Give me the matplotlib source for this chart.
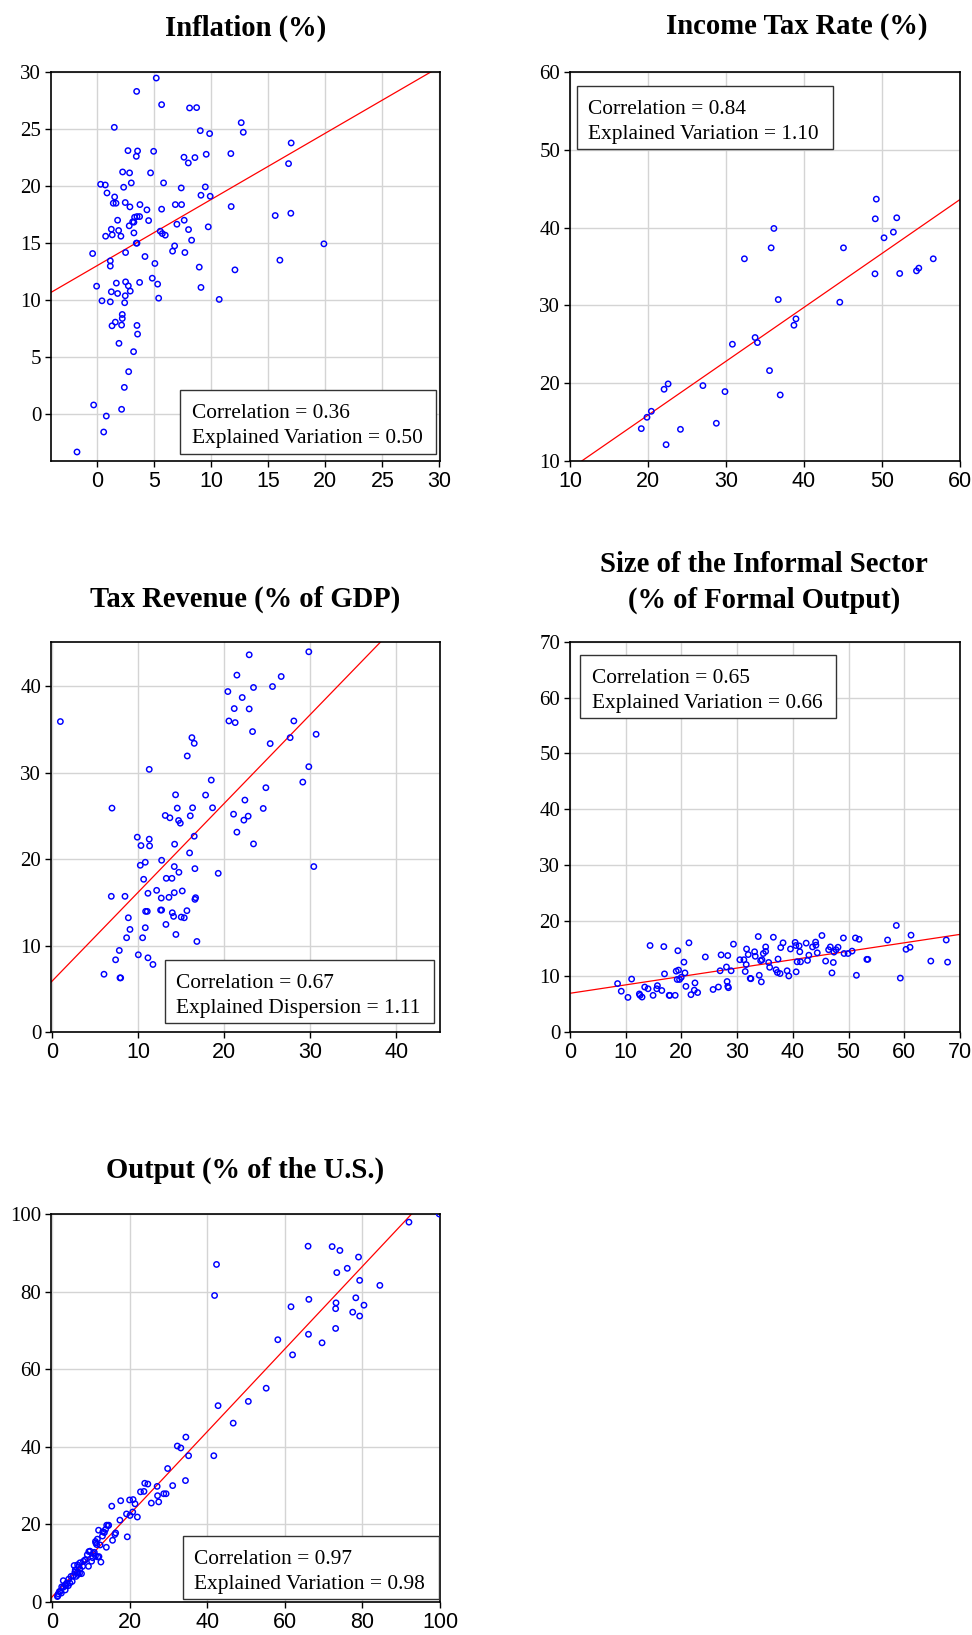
import matplotlib
matplotlib.use('Agg')
import matplotlib.pyplot as plt
from matplotlib.patches import Rectangle
import numpy as np

W, H = 972, 1635

# ---- Inflation (%) ----
infl_x = [5.17, 3.45, 5.64, 8.09, 8.71, 12.62, 1.49, 9.03, 9.85, 12.8, 17.0, 2.69, 3.53, 3.42, 4.94,
          11.71, 9.55, 7.6, 8.56, 7.98, 16.77, 2.22, 2.83, 4.67, 2.98, 0.29, 0.70, 2.31, 5.81, 7.36,
          9.47, 0.85, 1.52, 9.09, 9.9, 1.4, 1.64, 2.45, 2.86, 3.74, 4.35, 5.64, 6.84, 7.39, 11.74,
          16.97, 15.6, 1.78, 3.48, 3.27, 3.71, 4.5, 3.1, 3.21, 2.8, 6.98, 7.62, 8.0, 9.73, 1.23,
          1.87, 3.21, 5.52, 5.7, 5.96, 0.73, 1.31, 2.07, 3.42, 3.48, 8.27, 6.78, -0.41, 2.48, 6.6,
          7.68, 4.18, 1.14, 1.14, 5.05, 8.94, 12.07, 16.01, 19.87, 4.82, 2.48, 1.67, -0.06, 2.72,
          3.71, 5.29, 9.09, 1.23, 1.78, 2.89, 2.45, 5.38, 10.69, 0.41, 1.14, 2.4, 2.19, 2.19, 1.58,
          1.29, 2.13, 3.48, 3.53, 1.9, 3.18, 2.75, 2.37, -0.32, 0.79, 2.13, 0.56, -1.78]
infl_y = [29.47, 28.3, 27.14, 26.85, 26.88, 25.56, 25.15, 24.86, 24.6, 24.72, 23.78, 23.11, 23.08, 22.61,
          23.05, 22.85, 22.79, 22.53, 22.5, 22.03, 21.97, 21.24, 21.16, 21.16, 20.28, 20.16, 20.1, 19.9,
          20.28, 19.84, 19.93, 19.4, 19.05, 19.2, 19.11, 18.5, 18.5, 18.56, 18.18, 18.38, 17.92, 17.98,
          18.38, 18.38, 18.21, 17.62, 17.42, 17.01, 17.33, 17.27, 17.33, 16.98, 16.87, 16.84, 16.52,
          16.66, 17.01, 16.19, 16.43, 16.22, 16.11, 15.9, 16.05, 15.84, 15.7, 15.61, 15.73, 15.61, 15.0,
          15.0, 15.26, 14.76, 14.09, 14.18, 14.3, 14.18, 13.83, 13.45, 12.99, 13.22, 12.9, 12.66, 13.51,
          14.94, 11.93, 11.61, 11.5, 11.23, 11.26, 11.56, 11.41, 11.12, 10.74, 10.59, 10.8, 10.39, 10.18,
          10.07, 9.95, 9.86, 9.78, 8.75, 8.4, 8.08, 7.76, 7.82, 7.79, 7.03, 6.22, 5.49, 3.74, 2.36, 0.82,
          -0.15, 0.44, -1.55, -3.3]
infl_fit = (13.04, 0.58)

# ---- Income Tax Rate (%) ----
itax_x = [49.27, 49.14, 51.89, 36.14, 51.46, 50.26, 35.79, 45.06, 32.36, 56.57, 49.1, 52.27, 54.42,
          54.72, 36.7, 44.59, 38.97, 38.71, 33.73, 34.03, 30.82, 35.58, 22.58, 22.06, 27.04, 29.87,
          36.95, 20.43, 19.87, 19.14, 24.16, 28.76, 22.32]
itax_y = [43.66, 41.13, 41.26, 39.89, 39.42, 38.69, 37.4, 37.4, 35.99, 35.99, 34.06, 34.1, 34.44,
          34.79, 30.75, 30.41, 28.27, 27.45, 25.87, 25.22, 25.01, 21.62, 19.91, 19.22, 19.69, 18.92,
          18.49, 16.39, 15.62, 14.16, 14.07, 14.85, 12.1]
itax_fit = (2.03, 0.693)

# ---- Tax Revenue (% of GDP) ----
trev_x = [0.97, 6.97, 11.3, 6.89, 8.48, 6.04, 7.39, 7.82, 7.9, 7.98, 8.87, 9.06, 8.67, 10.03, 9.91,
          10.34, 11.3, 11.34, 10.26, 10.84, 10.65, 11.15, 10.88, 11.07, 10.84, 10.53, 11.15, 11.73,
          12.16, 12.7, 12.62, 12.74, 12.74, 13.16, 13.7, 13.28, 13.94, 13.59, 13.24, 13.98, 14.13,
          14.21, 14.21, 14.25, 14.36, 14.56, 14.71, 14.91, 14.75, 14.4, 15.14, 15.02, 15.37, 15.68,
          15.72, 16.26, 16.53, 16.07, 16.34, 16.53, 15.99, 16.61, 16.69, 16.61, 16.84, 17.85, 18.51,
          18.66, 19.32, 20.44, 20.56, 21.18, 21.29, 21.49, 22.11, 22.92, 22.92, 23.42, 23.31, 21.1,
          21.49, 22.42, 22.3, 22.8, 23.42, 24.55, 24.86, 25.36, 25.63, 26.64, 27.68, 28.11, 29.15,
          29.85, 29.85, 30.7, 30.43]
trev_y = [35.9, 25.89, 30.37, 15.69, 15.69, 6.68, 8.35, 9.43, 6.26, 6.26, 13.21, 11.86, 10.9, 8.93,
          22.53, 21.56, 22.3, 21.52, 19.28, 19.63, 17.66, 16.04, 13.95, 13.95, 12.06, 10.9, 8.58, 7.81,
          16.38, 15.49, 14.1, 14.1, 19.86, 25.04, 24.77, 17.77, 17.77, 15.57, 12.44, 13.79, 13.37,
          16.11, 19.13, 21.72, 27.43, 25.89, 24.46, 24.15, 18.47, 11.28, 16.31, 13.29, 13.21, 14.03,
          31.92, 34.04, 33.38, 25.0, 25.93, 22.64, 20.71, 18.89, 15.53, 15.34, 10.47, 27.4, 29.13,
          25.93, 18.35, 39.37, 35.97, 37.4, 35.78, 41.27, 38.68, 43.62, 37.36, 39.84, 34.74, 25.19,
          23.11, 26.82, 24.5, 24.96, 21.75, 25.85, 28.25, 33.35, 39.95, 41.11, 34.04, 35.97, 28.9,
          43.97, 30.68, 34.43, 19.13]
trev_fit = (5.88, 1.027)

# ---- Size of the Informal Sector (% of Formal Output) ----
inf_x = [8.54, 9.2, 10.4, 11.06, 12.45, 12.57, 12.93, 13.41, 14.01, 14.37, 14.91, 15.69, 15.57, 16.48,
         16.84, 16.96, 17.8, 17.92, 18.88, 19.06, 19.48, 19.36, 19.24, 19.66, 19.96, 20.45, 20.63,
         20.81, 21.35, 21.71, 22.31, 22.43, 22.91, 24.29, 25.68, 26.64, 26.94, 27.12, 28.08, 28.2,
         28.32, 28.44, 28.32, 28.92, 29.34, 30.49, 31.21, 31.45, 31.69, 31.63, 31.99, 32.35, 32.47,
         33.13, 33.25, 33.79, 33.97, 34.34, 34.22, 34.46, 34.7, 35.12, 35.12, 35.66, 35.84, 36.5,
         37.34, 36.98, 37.22, 37.7, 37.82, 38.24, 38.97, 39.27, 39.57, 40.41, 40.53, 40.59, 40.77,
         41.13, 41.25, 41.37, 42.39, 42.63, 42.87, 43.53, 44.08, 44.14, 44.38, 45.22, 45.88, 46.42,
         46.72, 47.02, 47.26, 47.38, 47.75, 48.11, 49.07, 49.19, 49.91, 50.63, 51.23, 51.41, 51.89,
         53.28, 53.46, 57.0, 58.57, 59.29, 60.31, 61.03, 61.21, 64.76, 67.53, 67.77]
inf_y = [8.69, 7.32, 6.21, 9.5, 6.83, 6.58, 6.27, 8.07, 7.76, 15.52, 6.58, 8.32, 7.76, 7.45, 15.33,
         10.43, 6.58, 6.58, 6.58, 10.92, 11.11, 14.59, 9.43, 9.43, 9.81, 12.54, 10.61, 8.19, 16.01,
         6.7, 7.51, 8.81, 7.08, 13.47, 7.63, 8.07, 10.99, 13.84, 11.67, 9.06, 8.19, 7.95, 13.72, 10.99,
         15.77, 12.97, 12.97, 10.86, 14.9, 12.1, 13.9, 9.62, 9.56, 14.4, 13.59, 17.13, 10.18, 9.0,
         12.79, 12.97, 14.09, 15.27, 14.46, 12.48, 11.61, 17.01, 13.1, 11.17, 10.68, 10.49, 15.15,
         16.01, 10.99, 10.06, 14.9, 16.08, 15.52, 10.8, 12.6, 15.46, 14.4, 12.6, 15.95, 12.85, 13.78,
         15.27, 16.14, 15.58, 14.21, 17.32, 12.73, 14.77, 15.27, 10.61, 12.48, 14.34, 14.77, 15.21,
         16.88, 14.09, 14.09, 14.52, 16.88, 10.18, 16.64, 13.04, 13.04, 16.51, 19.12, 9.68, 14.84,
         15.21, 17.38, 12.73, 16.51, 12.54]
inf_fit = (6.95, 0.151)

# ---- Output (% of the U.S.) ----
out_x = [99.8, 92.0, 66.0, 72.2, 74.2, 79.0, 42.4, 76.1, 73.4, 79.3, 84.5, 41.9, 78.3, 66.2, 73.2,
         80.4, 61.6, 73.1, 77.5, 79.3, 73.1, 66.1, 69.6, 58.2, 62.0, 55.2, 50.6, 42.8, 46.7, 34.5,
         32.3, 33.2, 35.2, 41.7, 29.8, 34.4, 23.9, 24.7, 27.1, 31.1, 22.8, 23.7, 28.8, 29.4, 27.2,
         27.5, 25.6, 15.4, 17.7, 20.0, 20.9, 21.4, 19.2, 20.1, 20.8, 22.0, 17.5, 19.4, 12.0, 14.1,
         14.6, 13.8, 13.1, 16.4, 16.2, 15.6, 13.5, 13.0, 11.2, 11.3, 12.4, 14.0, 11.8, 12.6, 11.2,
         10.9, 9.8, 8.5, 7.9, 7.2, 6.6, 5.7, 4.3, 5.5, 6.5, 7.2, 2.9, 3.6, 2.5, 2.1, 1.6, 1.4, 4.6,
         5.2, 4.2, 6.2, 7.6, 2.4, 3.4, 6.0, 7.1, 8.1, 9.1, 10.2, 9.4, 10.5, 12.1, 10.6, 9.5, 8.6,
         6.9, 5.9, 6.7, 4.9, 3.8, 3.4, 2.9, 1.9, 1.5, 11.5, 11.7, 14.5]
out_y = [100.0, 97.9, 91.7, 91.6, 90.6, 88.9, 87.0, 86.0, 84.9, 82.9, 81.6, 79.0, 78.4, 78.0, 77.1,
         76.5, 76.1, 75.6, 74.7, 73.7, 70.5, 69.0, 66.8, 67.6, 63.7, 55.1, 51.7, 50.6, 46.1, 42.5,
         40.2, 39.7, 37.7, 37.7, 34.4, 31.3, 30.6, 30.4, 29.8, 30.0, 28.4, 28.5, 27.9, 27.9, 27.4,
         25.8, 25.5, 24.7, 26.1, 26.3, 26.4, 25.3, 22.7, 22.3, 23.2, 21.9, 21.1, 16.8, 18.5, 19.8,
         19.8, 18.7, 18.1, 17.8, 17.4, 15.9, 17.9, 17.0, 15.6, 15.2, 14.7, 14.1, 11.6, 10.3, 11.9,
         12.8, 13.1, 10.8, 9.2, 10.1, 9.6, 9.4, 5.9, 6.8, 7.6, 8.5, 5.5, 4.2, 3.9, 2.7, 2.1, 1.4, 4.9,
         5.3, 4.2, 6.6, 7.3, 2.3, 3.1, 8.3, 7.4, 10.5, 12.2, 10.5, 9.2, 11.4, 11.7, 12.5, 13.0, 10.9,
         9.1, 7.7, 7.1, 6.6, 4.9, 4.4, 3.8, 2.7, 1.6, 14.8, 16.2, 19.7]
out_fit = (1.3, 1.065)

SERIF = ['Liberation Serif', 'DejaVu Serif']
SANS = ['Liberation Sans', 'DejaVu Sans']

fig = plt.figure(figsize=(W / 100, H / 100), dpi=100)


def px_box(l, t, r, b):
    return [l / W, 1 - b / H, (r - l) / W, (b - t) / H]


def panel(box, x, y, fit, xlim, ylim, xticks, yticks, legend, lbox):
    ax = fig.add_axes(px_box(*box))
    ax.set_xlim(*xlim)
    ax.set_ylim(*ylim)
    ax.set_xticks(xticks)
    ax.set_yticks(yticks)
    ax.grid(True, color='#d4d4d4', linewidth=1.0)
    ax.set_axisbelow(True)
    for s in ax.spines.values():
        s.set_linewidth(1.2)
    ax.tick_params(direction='out', length=4, width=1, top=False, right=False, pad=3)
    for lab in ax.get_xticklabels():
        lab.set_fontfamily(SANS)
        lab.set_fontsize(15.5)
    for lab in ax.get_yticklabels():
        lab.set_fontfamily(SERIF)
        lab.set_fontsize(15)
    xx = np.array(xlim)
    ax.plot(xx, fit[0] + fit[1] * xx, color='red', linewidth=0.9, zorder=2)
    ax.scatter(x, y, s=15, facecolors='none', edgecolors='blue', linewidths=1.05, zorder=3)

    # legend box drawn in figure pixels
    l, t, r, b = lbox
    fig.add_artist(Rectangle((l / W, 1 - b / H), (r - l) / W, (b - t) / H,
                             transform=fig.transFigure, fill=True, facecolor='white',
                             edgecolor='#333333', linewidth=1.0, zorder=5))
    for k, line in enumerate(legend):
        fig.text((l + 11.5) / W, 1 - (t + 27.7 + 25.6 * k) / H, line, family=SERIF,
                 fontsize=15.4, va='baseline', ha='left', zorder=6)
    return ax


def title(cx, cy, s):
    fig.text(cx / W, 1 - cy / H, s, family=SERIF, fontweight='bold', fontsize=20.6,
             ha='center', va='center')


panel((51, 72, 440, 461), infl_x, infl_y, infl_fit, (-4.06, 30.05), (-4.09, 30),
      range(0, 31, 5), range(0, 31, 5),
      ['Correlation = 0.36', 'Explained Variation = 0.50'], (180, 390, 436, 454))
title(245.5, 28, 'Inflation (%)')

panel((570, 72, 960, 461), itax_x, itax_y, itax_fit, (10, 60), (10, 60),
      range(10, 61, 10), range(10, 61, 10),
      ['Correlation = 0.84', 'Explained Variation = 1.10'], (577, 86, 833, 149))
title(797, 26, 'Income Tax Rate (%)')

panel((51, 642, 440, 1032), trev_x, trev_y, trev_fit, (-0.12, 45.1), (0, 45.1),
      range(0, 41, 10), range(0, 41, 10),
      ['Correlation = 0.67', 'Explained Dispersion = 1.11'], (165, 960, 434, 1023))
title(245.5, 599, 'Tax Revenue (% of GDP)')

panel((570, 642, 960, 1032), inf_x, inf_y, inf_fit, (0, 70), (0, 70),
      range(0, 71, 10), range(0, 71, 10),
      ['Correlation = 0.65', 'Explained Variation = 0.66'], (580, 655, 836, 718))
title(764, 565, 'Size of the Informal Sector')
title(764, 600, '(% of Formal Output)')

panel((51, 1214, 440, 1602), out_x, out_y, out_fit, (-0.26, 100), (0, 100),
      range(0, 101, 20), range(0, 101, 20),
      ['Correlation = 0.97', 'Explained Variation = 0.98'], (183, 1536, 439, 1599))
title(245.5, 1170, 'Output (% of the U.S.)')

fig.savefig('out.png', dpi=100)
